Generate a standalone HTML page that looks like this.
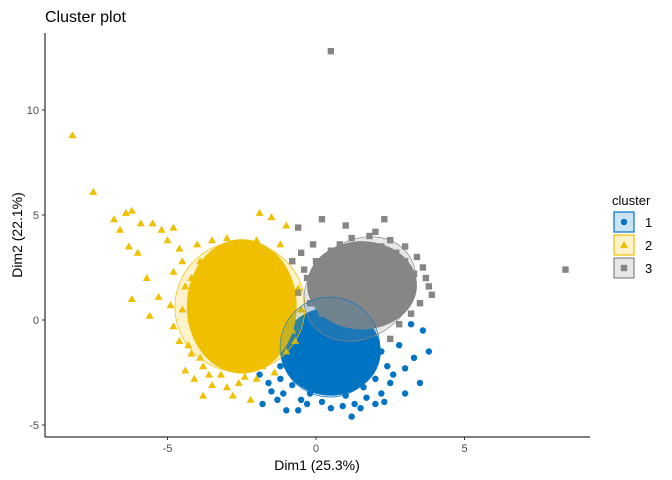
<!DOCTYPE html>
<html><head><meta charset="utf-8"><style>
body{margin:0;background:#fff;font-family:"Liberation Sans",Arial,sans-serif}
svg{display:block}
</style></head><body>
<svg id="chart" width="672" height="480"></svg>
<script>
const xTicks=[-5,0,5];
const yTicks=[-5,0,5,10];
const clusterIds=["1","2","3"];
const clusterColors=["#0073C2","#EFC000","#868686"];
// ellipse: cx, cy, rx, ry, rotation(deg)
const ellipse1=[0.47,-1.29,1.68,2.38,0];
const ellipse2=[-2.56,0.62,2.19,3.1,10];
const ellipse3=[1.48,1.48,2.0,2.3,-35];
// dense cores: cx, cy, rx, ry
const core1=[0.5,-1.5,1.68,2.1];
const core2=[-2.5,0.65,1.85,3.2];
const core3=[1.55,1.65,1.85,2.1];
const pts1=[[0,-3.3],[-1.8,-4.0],[-1.5,-3.4],[-1.9,-2.6],[-1.0,-4.3],[-0.5,-3.8],[1.5,-4.2],[1.2,-4.6],[2.5,-3.0],[3.0,-3.5],[3.0,-2.3],[3.5,-3.0],[3.8,-1.5],[3.6,-0.5],[3.2,-0.2],[2.8,-1.2],[1.3,-4.0],[0.5,-4.2],[-0.3,-4.0],[-1.3,-3.8],[2.0,-4.0],[-0.8,-3.1],[-1.2,-2.2],[2.2,-3.5],[-0.9,-1.2],[-1.4,-1.6],[2.4,-2.2],[1.0,-3.6],[-0.2,-3.5],[2.0,-2.8],[-1.6,-3.0],[-1.1,-3.5],[-0.6,-4.3],[0.2,-3.9],[0.9,-4.1],[1.7,-3.7],[2.3,-3.9],[2.6,-2.6],[2.2,-1.5],[1.9,-0.6],[-1.2,-2.8],[-0.4,-2.6],[3.3,-1.8],[1.6,-3.2]];
const pts2=[[-8.2,8.8],[-7.5,6.1],[-6.2,5.2],[-6.4,5.1],[-6.8,4.8],[-5.9,4.6],[-6.6,4.3],[-5.5,4.6],[-5.2,4.3],[-6.3,3.5],[-6,3.2],[-5.0,3.8],[-4.8,4.4],[-4.6,3.4],[-4.5,2.8],[-4.8,2.3],[-5.7,2.0],[-6.2,1.0],[-5.3,1.1],[-4.9,0.7],[-5.6,0.2],[-4.8,-0.3],[-4.6,-1.0],[-4.2,-1.6],[-4.4,-2.4],[-3.8,-2.2],[-3.5,-3.1],[-3.0,-3.2],[-2.6,-3.0],[-2.2,-3.8],[-3.8,-3.6],[-2.8,-3.6],[-2.0,-2.8],[-1.4,-2.5],[-1.9,5.1],[-1.5,4.9],[-1.0,4.5],[-3.5,3.8],[-2.5,3.6],[-3.0,3.9],[-2.0,3.8],[-1.2,3.6],[-0.8,2.8],[-1.0,2.0],[-0.6,1.5],[-1.5,2.5],[-4.0,3.6],[-4.2,2.0],[-4.0,1.2],[-4.2,0.0],[-0.5,0.5],[-0.8,-0.5],[-1.0,-1.5],[-3.6,-2.6],[-4.0,-0.8],[-3.9,2.8],[-3.4,3.2],[-2.8,3.3],[-2.2,3.1],[-1.6,3.0],[-4.4,1.6],[-4.5,0.5],[-4.3,-1.2],[-3.9,-1.8],[-3.2,-2.6],[-2.4,-2.7],[-1.8,-2.2],[-0.9,0.9],[-0.7,-1.0],[-1.3,1.6],[-3.7,2.3],[-4.1,-2.8]];
const pts3=[[0.5,12.8],[8.4,2.4],[2.3,4.8],[1.0,4.5],[0.2,4.8],[-0.6,4.4],[-0.1,3.6],[0.5,3.3],[-0.5,3.2],[-0.8,2.8],[-0.3,2.0],[-0.6,1.3],[-0.2,0.8],[1.5,3.6],[1.8,4.0],[2.5,3.8],[3.0,3.5],[3.4,3.0],[3.6,2.5],[3.8,1.6],[3.5,0.8],[3.2,0.3],[2.8,-0.2],[2.5,-0.9],[3.9,1.2],[0.4,2.6],[1.2,3.9],[2.0,4.2],[0.0,1.0],[0.2,0.3],[3.0,2.8],[2.7,3.2],[0.8,3.6],[2.2,3.5],[3.3,2.2],[3.7,2.0],[3.1,1.0],[0.0,2.8],[-0.4,2.4],[0.3,1.8],[-0.1,1.4],[2.9,0.6]];

const X=v=>316+(v)*29.7;
const Y=v=>320-(v)*21;
const NS="http://www.w3.org/2000/svg";
const svg=document.getElementById("chart");
function mk(tag,attrs,parent){const e=document.createElementNS(NS,tag);for(const k in attrs)e.setAttribute(k,attrs[k]);(parent||svg).appendChild(e);return e;}
const plot=mk("g",{});


const cores=[core1,core2,core3];
const ptsets=[pts1,pts2,pts3];
const ells=[ellipse1,ellipse2,ellipse3];
function marker(i,px,py,g){
  let e;
  if(i===0)e=mk("circle",{cx:px,cy:py,r:3.2,fill:clusterColors[0]},g);
  else if(i===1)e=mk("polygon",{points:`${px},${py-4} ${px+4},${py+3} ${px-4},${py+3}`,fill:clusterColors[1]},g);
  else e=mk("rect",{x:px-3.2,y:py-3.2,width:6.4,height:6.4,fill:clusterColors[2]},g);
  return e;
}
[0,1,2].forEach(i=>{
  const g=mk("g",{},plot);
  
  
  const c=cores[i];
  const core=mk("ellipse",{cx:X(c[0]),cy:Y(c[1]),rx:c[2]*29.7,ry:c[3]*21,fill:clusterColors[i]},g);
  
  
  ptsets[i].forEach(p=>{
    const m=marker(i,X(p[0]),Y(p[1]),g);
    
    
  });
});
[0,1,2].forEach(i=>{
  const e=ells[i];
  const el=mk("ellipse",{cx:X(e[0]),cy:Y(e[1]),rx:e[2]*29.7,ry:e[3]*21,fill:clusterColors[i],"fill-opacity":0.2,stroke:clusterColors[i],"stroke-width":0.7,transform:`rotate(${e[4]} ${X(e[0])} ${Y(e[1])})`},plot);
  
  
});
// axes
const ax=mk("g",{});


mk("line",{x1:45,y1:33,x2:45,y2:437,stroke:"#000","stroke-width":1},ax);
mk("line",{x1:45,y1:437,x2:590,y2:437,stroke:"#000","stroke-width":1},ax);
xTicks.forEach(t=>{
  mk("line",{x1:X(t),y1:437,x2:X(t),y2:440,stroke:"#333"},ax);
  const tx=mk("text",{x:X(t),y:452,"text-anchor":"middle","font-size":11,fill:"#4d4d4d"},ax);
  tx.textContent=t;
  
  
});
yTicks.forEach(t=>{
  mk("line",{x1:42,y1:Y(t),x2:45,y2:Y(t),stroke:"#333"},ax);
  const tx=mk("text",{x:39,y:Y(t)+4,"text-anchor":"end","font-size":11,fill:"#4d4d4d"},ax);
  tx.textContent=t;
  
  
});
const xt=mk("text",{x:317,y:470,"text-anchor":"middle","font-size":14,fill:"#000"});
xt.textContent="Dim1 (25.3%)";


const yt=mk("text",{x:22,y:235,"text-anchor":"middle","font-size":14,fill:"#000",transform:"rotate(-90 22 235)"});
yt.textContent="Dim2 (22.1%)";


const ti=mk("text",{x:45,y:22,"font-size":16,fill:"#000"});
ti.textContent="Cluster plot";


// legend
const lg=mk("g",{});


const lt=mk("text",{x:612,y:205,"font-size":13,fill:"#000"},lg);
lt.textContent="cluster";


[0,1,2].forEach(i=>{
  const y0=212+i*23;
  const box=mk("rect",{x:614,y:y0,width:20,height:20,fill:clusterColors[i],"fill-opacity":0.2,stroke:clusterColors[i],"stroke-width":1.2},lg);
  
  
  marker(i,624,y0+10,lg);
  const tx=mk("text",{x:645,y:y0+15,"font-size":13,fill:"#000"},lg);
  tx.textContent=clusterIds[i];
  
  
});
</script>
</body></html>
